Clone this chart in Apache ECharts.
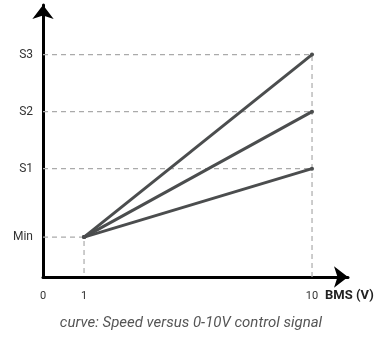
<!DOCTYPE html>
<html>
<head>
    <meta charset="utf-8">
    <title>ECharts</title>
    <script src="https://cdn.jsdelivr.net/npm/echarts@6/dist/echarts.min.js"></script>
    <style>body{margin:0}</style>
</head>
<body>
<div id="main" style="width: 382px;height:339px;"></div>
<script type="text/javascript">
    // control voltage (x) and speed levels (y)
    var xStart = 1;
    var xEnd = 10;
    var levelNames = ['Min', 'S1', 'S2', 'S3'];
    var levelValues = [0.7, 1.9, 2.9, 3.9];
    var xTickLabels = ['0', '1', '10'];

    var xMin = -0.62, xMax = 11.42;
    var yMax = 4.77;

    var lineColor = '#4b4d4e';
    var dashColor = '#aaaaaa';

    var series = [];
    // dashed guides
    for (var i = 1; i < levelValues.length; i++) {
        series.push({
            type: 'line', silent: true, symbol: 'none',
            lineStyle: {color: dashColor, width: 1.2, type: [5, 4]},
            data: [[xMin, levelValues[i]], [xEnd, levelValues[i]]]
        });
    }
    series.push({
        type: 'line', silent: true, symbol: 'none',
        lineStyle: {color: dashColor, width: 1.2, type: [5, 4]},
        data: [[xMin, levelValues[0]], [xStart, levelValues[0]], [xStart, 0]]
    });
    series.push({
        type: 'line', silent: true, symbol: 'none',
        lineStyle: {color: dashColor, width: 1.2, type: [5, 4]},
        data: [[xEnd, 0], [xEnd, levelValues[3]]]
    });
    // speed curves
    for (var j = 1; j < levelValues.length; j++) {
        series.push({
            type: 'line', silent: true,
            symbol: 'circle', symbolSize: 4,
            itemStyle: {color: lineColor},
            lineStyle: {color: lineColor, width: 3},
            data: [[xStart, levelValues[0]], [xEnd, levelValues[j]]]
        });
    }

    var myChart = echarts.init(document.getElementById('main'));
    var option = {
        animation: false,
        textStyle: {fontFamily: 'Roboto'},
        title: {
            text: 'curve: Speed versus 0-10V control signal',
            left: 'center', bottom: 3,
            textStyle: {fontSize: 15, fontStyle: 'italic', fontWeight: 'normal', color: '#555'}
        },
        grid: {left: 43, right: 34, top: 5, bottom: 62, containLabel: false, outerBoundsMode: 'none'},
        xAxis: {
            type: 'value', min: xMin, max: xMax,
            splitLine: {show: false},
            axisLine: {onZero: false, lineStyle: {color: '#000', width: 3}, symbol: ['none', 'arrow'], symbolSize: [16, 14]},
            axisTick: {show: false},
            axisLabel: {
                customValues: [xMin, xStart, xEnd],
                formatter: function (v) {
                    if (v === xMin) return xTickLabels[0];
                    if (v === xStart) return xTickLabels[1];
                    return xTickLabels[2];
                },
                color: '#333', fontSize: 11, margin: 14, showMinLabel: true, showMaxLabel: true
            },
            name: 'BMS (V)',
            nameLocation: 'end', nameGap: -23,
            nameTextStyle: {align: 'left', verticalAlign: 'top', padding: [12, 0, 0, 0], fontSize: 13, fontWeight: 'bold', color: '#222'}
        },
        yAxis: {
            type: 'value', min: 0, max: yMax,
            splitLine: {show: false},
            axisLine: {onZero: false, lineStyle: {color: '#000', width: 3}, symbol: ['none', 'arrow'], symbolSize: [16, 14]},
            axisTick: {show: false},
            axisLabel: {
                customValues: levelValues,
                formatter: function (v) {
                    return levelNames[levelValues.indexOf(v)];
                },
                color: '#333', fontSize: 12, margin: 10
            }
        },
        series: series
    };
    myChart.setOption(option);
</script>
</body>
</html>
